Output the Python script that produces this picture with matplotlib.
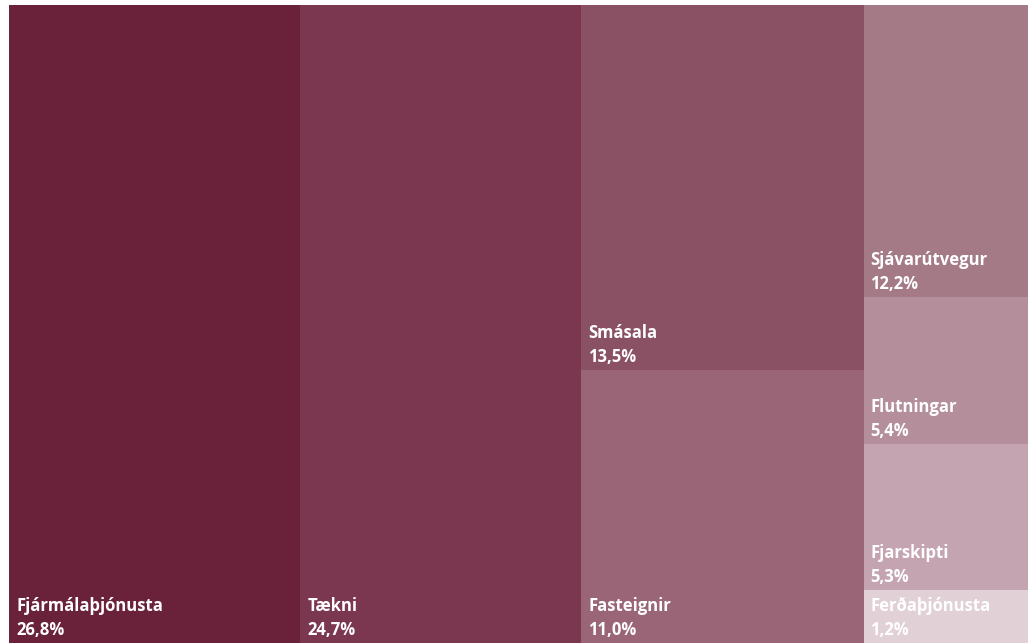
import matplotlib
matplotlib.use("Agg")
import matplotlib.pyplot as plt

plt.rcParams['font.family'] = ['Open Sans', 'DejaVu Sans']

# greinar, hlutfall (texti) og stærð reits
names = ['Fjármálaþjónusta', 'Tækni', 'Smásala', 'Fasteignir',
         'Sjávarútvegur', 'Flutningar', 'Fjarskipti', 'Ferðaþjónusta']
pct_labels = ['26,8%', '24,7%', '13,5%', '11,0%', '12,2%', '5,4%', '5,3%', '1,2%']
sizes = [28.6, 27.6, 15.85, 11.85, 7.4, 3.7, 3.7, 1.35]
columns = [[0], [1], [2, 3], [4, 5, 6, 7]]
colors = ['#6a213a', '#7b3750', '#8a5064', '#9a6677',
          '#a47a87', '#b48f9b', '#c4a4b0', '#e1d1d7']

fig = plt.figure(figsize=(10.28, 6.43), dpi=100)
ax = fig.add_axes([9 / 1028, 0, 1019 / 1028, 638 / 643])
total = sum(sizes)

x0 = 0.0
for col in columns:
    col_sum = sum(sizes[i] for i in col)
    y_top = 0.0
    for i in col:
        h = sizes[i] / col_sum
        ax.bar(x0, h, width=col_sum, bottom=y_top, align='edge',
               color=colors[i], linewidth=0)
        y_bot = y_top + h
        ax.annotate(names[i], xy=(x0, y_bot), xytext=(7, 32),
                    textcoords='offset pixels', ha='left', va='baseline',
                    color='white', fontsize=12, fontweight='bold')
        ax.annotate(pct_labels[i], xy=(x0, y_bot), xytext=(7, 8),
                    textcoords='offset pixels', ha='left', va='baseline',
                    color='white', fontsize=12, fontweight='bold')
        y_top = y_bot
    x0 += col_sum

ax.set_xlim(0, total)
ax.set_ylim(1, 0)
ax.axis('off')
fig.savefig('out.png', dpi=100)
